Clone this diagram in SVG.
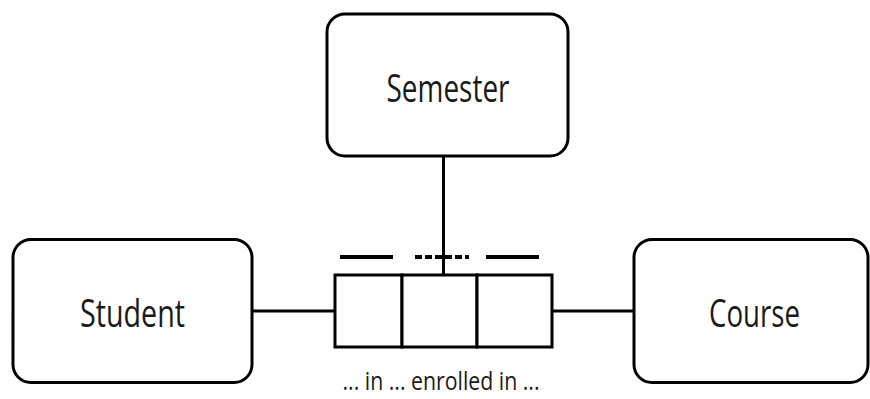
<svg xmlns="http://www.w3.org/2000/svg" width="870" height="399" viewBox="0 0 870 399">
  <style>
    .box { fill: #ffffff; stroke: #000000; stroke-width: 3; }
    .cell { fill: #ffffff; stroke: #000000; stroke-width: 3; }
    .link { stroke: #000000; stroke-width: 3; fill: none; }
    .role { stroke: #000000; stroke-width: 4; fill: none; }
    .label { font-family: "Open Sans", "Liberation Sans", sans-serif; font-size: 38px; fill: #1a1a1a; text-anchor: middle; }
    .reading { font-family: "Open Sans", "Liberation Sans", sans-serif; font-size: 26px; fill: #1a1a1a; text-anchor: middle; }
  </style>
  <rect width="870" height="399" fill="#ffffff"/>

  <!-- connectors -->
  <g id="connectors">
    <line class="link" x1="443.5" y1="156" x2="443.5" y2="275"/>
    <line class="link" x1="252" y1="311" x2="335" y2="311"/>
    <line class="link" x1="552" y1="311" x2="634" y2="311"/>
  </g>

  <g id="semester">
    <rect class="box" x="327" y="14" width="241" height="142" rx="18" ry="18"/>
    <text class="label" x="448" y="102" textLength="123" lengthAdjust="spacingAndGlyphs">Semester</text>
  </g>

  <g id="student">
    <rect class="box" x="13" y="239.5" width="239" height="143" rx="18" ry="18"/>
    <text class="label" x="132.5" y="327" textLength="105" lengthAdjust="spacingAndGlyphs">Student</text>
  </g>

  <g id="course">
    <rect class="box" x="634" y="239.5" width="234" height="143" rx="18" ry="18"/>
    <text class="label" x="754.5" y="327" textLength="91" lengthAdjust="spacingAndGlyphs">Course</text>
  </g>

  <!-- ternary fact type with three roles -->
  <g id="enrolment">
    <rect class="cell" x="335" y="275" width="67" height="72"/>
    <rect class="cell" x="402" y="275" width="75" height="72"/>
    <rect class="cell" x="477" y="275" width="75" height="72"/>
    <line class="role" x1="340" y1="257" x2="393" y2="257"/>
    <line class="role" x1="415" y1="257" x2="469" y2="257" stroke-dasharray="7 3"/>
    <line class="role" x1="486" y1="257" x2="539" y2="257"/>
    <text class="reading" x="441" y="390" textLength="197" lengthAdjust="spacingAndGlyphs">... in ... enrolled in ...</text>
  </g>
</svg>
